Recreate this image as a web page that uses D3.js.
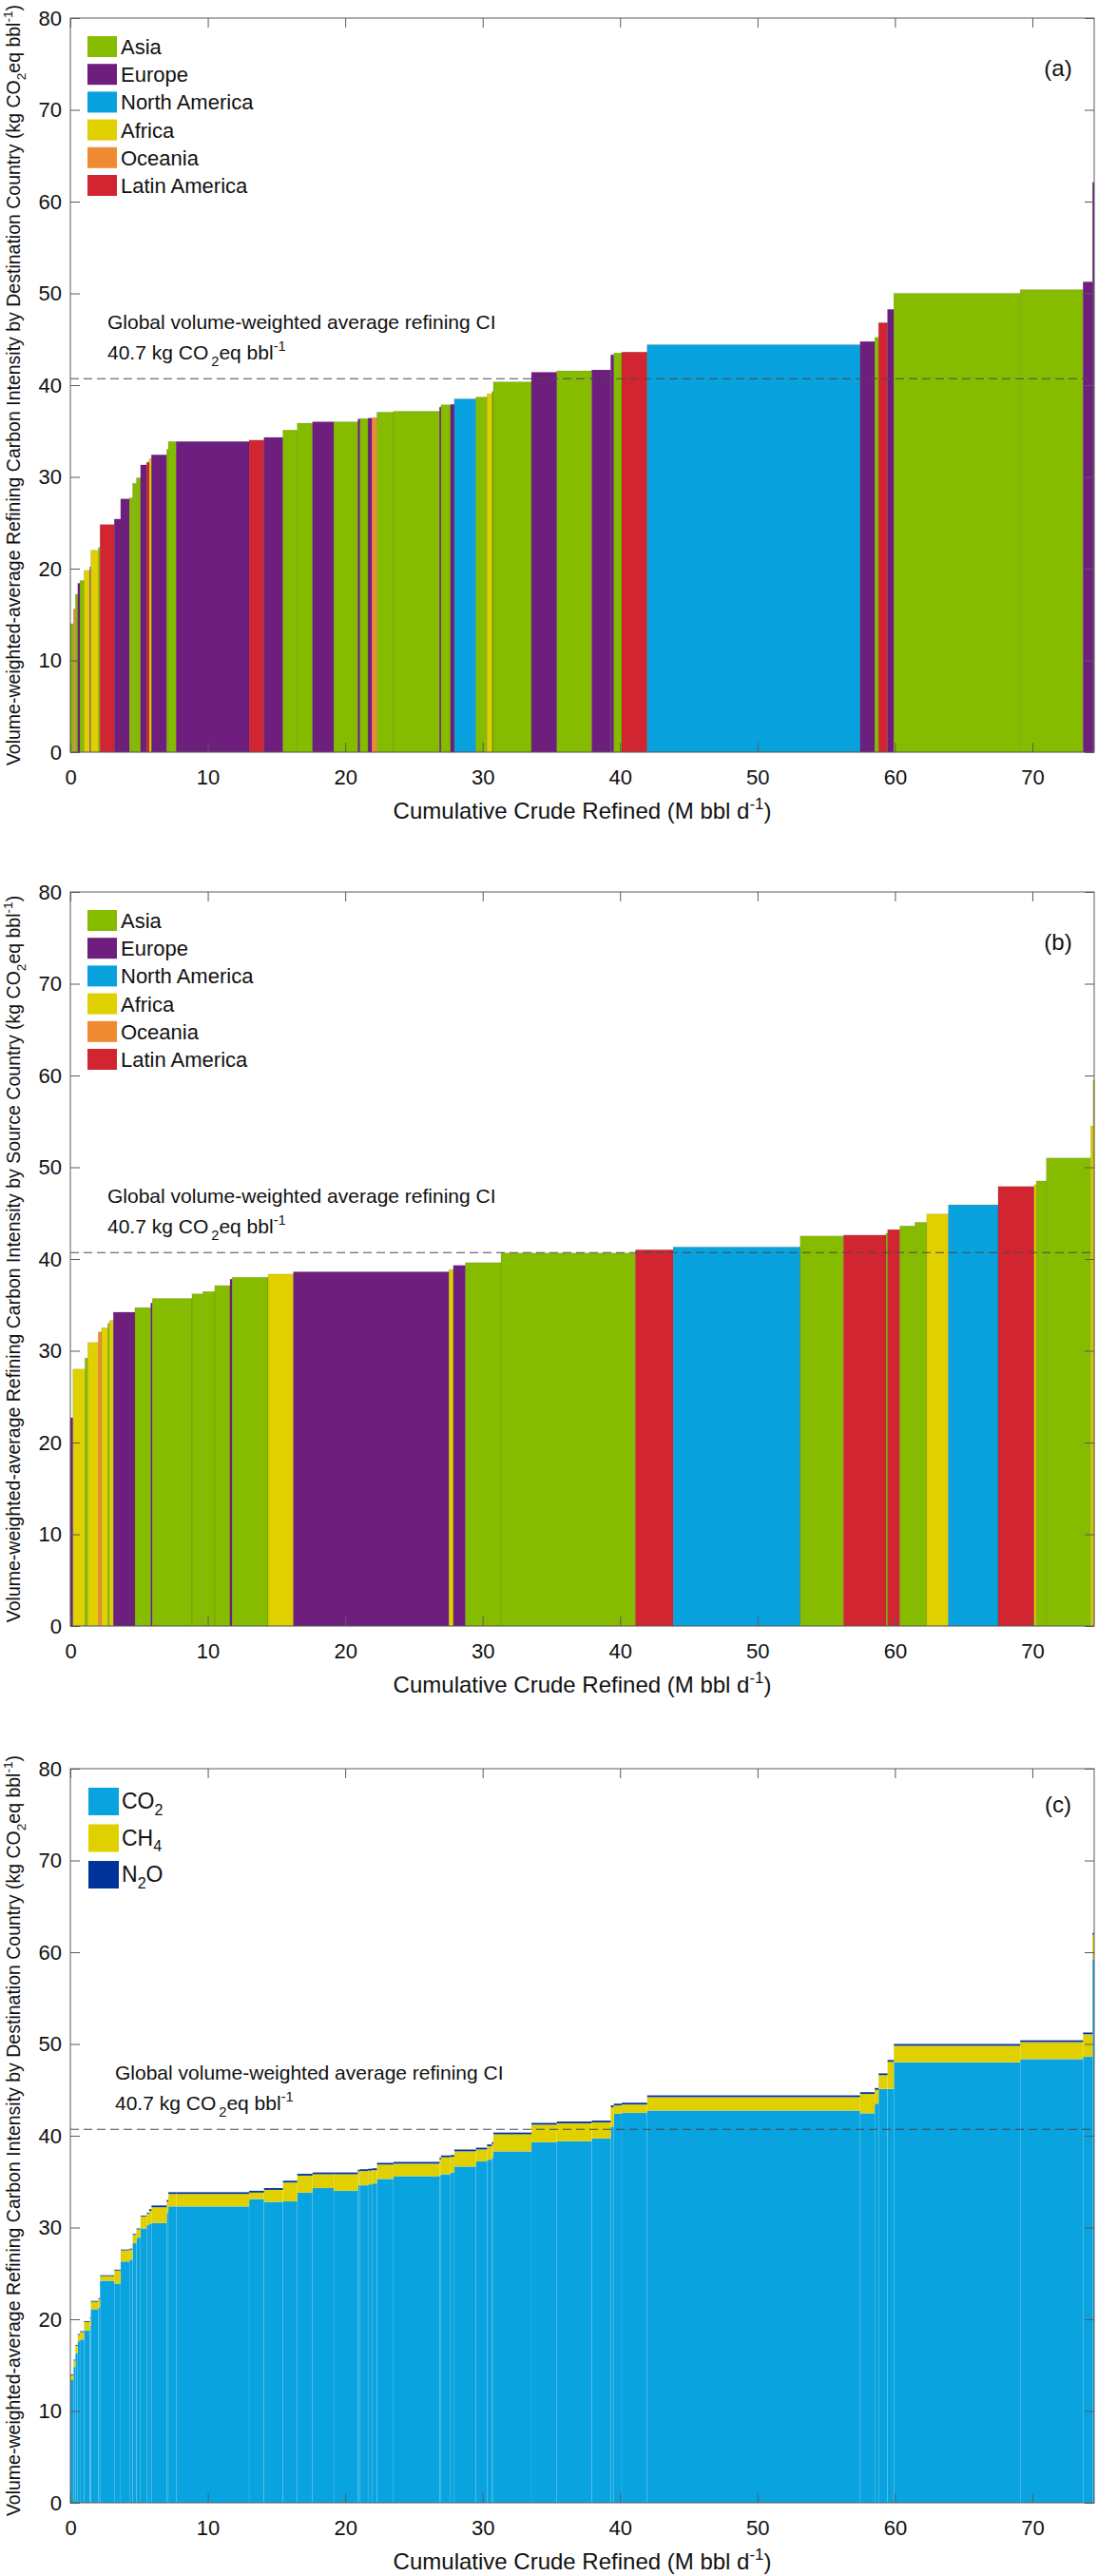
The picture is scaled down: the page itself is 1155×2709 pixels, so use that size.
<!DOCTYPE html>
<html>
<head>
<meta charset="utf-8">
<script src="https://cdn.jsdelivr.net/npm/d3@7"></script>
<style>
  body { margin: 0; background: #fff; }
  svg { display: block; }
  text { font-family: "Liberation Sans", Arial, Helvetica, sans-serif; fill: #111; }
</style>
</head>
<body>
<svg id="chart" width="1155" height="2709"></svg>
<script>
// ---- data -------------------------------------------------------------
const regionKeys = ["AS", "EU", "NA", "AF", "OC", "LA"];
const regionNames = ["Asia", "Europe", "North America", "Africa", "Oceania", "Latin America"];
const regionColors = ["#86bc00", "#6e1f7e", "#08a3df", "#e0d000", "#f08a32", "#d12631"];

// (a) by destination country, sorted by CI
const destWidth = [0.23, 0.14, 0.17, 0.16, 0.30, 0.42, 0.07, 0.55, 0.12, 1.04,
  0.46, 0.64, 0.23, 0.28, 0.30, 0.44, 0.19, 0.16, 1.11, 0.12,
  0.57, 5.31, 1.08, 1.38, 1.04, 1.11, 1.55, 1.75, 0.16, 0.58,
  0.28, 0.37, 1.20, 3.35, 0.11, 0.69, 0.28, 1.57, 0.81, 0.35,
  0.11, 2.77, 1.85, 2.54, 1.38, 0.23, 0.57, 1.85, 15.5, 1.06,
  0.28, 0.65, 0.46, 9.20, 4.57, 0.69, 0.12];
const destCI = [14.0, 15.6, 17.2, 18.4, 18.7, 19.8, 20.2, 22.0, 22.3, 24.8,
  25.4, 27.6, 27.7, 29.3, 29.9, 31.3, 31.6, 32.0, 32.4, 33.0,
  33.85, 33.85, 34.0, 34.3, 35.1, 35.85, 36.0, 36.0, 36.3, 36.35,
  36.4, 36.45, 37.05, 37.15, 37.6, 37.85, 37.9, 38.5, 38.7, 39.05,
  39.3, 40.35, 41.4, 41.55, 41.65, 43.3, 43.5, 43.6, 44.4, 44.75,
  45.2, 46.8, 48.25, 50.0, 50.4, 51.25, 62.1];
const destRegion = ["AS", "OC", "AS", "EU", "AS", "AF", "EU", "AF", "AS", "LA",
  "EU", "EU", "AS", "AS", "AS", "EU", "LA", "AF", "EU", "AS",
  "AS", "EU", "LA", "EU", "AS", "AS", "EU", "AS", "EU", "AS",
  "EU", "OC", "AS", "AS", "EU", "AS", "EU", "NA", "AS", "AF",
  "AS", "AS", "EU", "AS", "EU", "EU", "AS", "LA", "NA", "EU",
  "AS", "LA", "EU", "AS", "AS", "EU", "EU"];

// (b) by source country, sorted by CI
const srcWidth = [0.19, 0.87, 0.21, 0.76, 0.24, 0.46, 0.12, 0.28, 1.57, 1.15,
  0.12, 2.88, 0.80, 0.86, 1.11, 0.16, 2.61, 1.84, 11.32, 0.32,
  0.88, 2.59, 9.78, 2.75, 9.24, 3.15, 3.09, 0.12, 0.89, 1.10,
  0.85, 1.58, 3.62, 2.62, 0.16, 0.73, 3.23, 0.17, 0.10];
const srcCI = [22.7, 28.0, 29.2, 30.9, 32.05, 32.5, 33.0, 33.3, 34.2, 34.7,
  35.2, 35.7, 36.2, 36.45, 37.1, 37.8, 38.0, 38.35, 38.6, 38.85,
  39.3, 39.6, 40.65, 41.0, 41.3, 42.5, 42.6, 42.8, 43.2, 43.6,
  44.0, 44.9, 45.9, 47.9, 48.1, 48.5, 51.0, 54.5, 59.5];
const srcRegion = ["EU", "AF", "AS", "AF", "OC", "AF", "AS", "AF", "EU", "AS",
  "EU", "AS", "AS", "AS", "AS", "EU", "AS", "AF", "EU", "AF",
  "EU", "AS", "AS", "LA", "NA", "AS", "LA", "AS", "LA", "AS",
  "AS", "AF", "NA", "LA", "AF", "AS", "AS", "AF", "AF"];

// (c) gas split of the destination-country bars
const gasKeys = ["co2", "ch4", "n2o"];
const gasColors = ["#09a3df", "#e0d000", "#00349b"];
const co2 = [13.4, 14.8, 16.3, 17.6, 17.8, 18.8, 19.3, 21.1, 21.3, 24.2,
  23.9, 26.3, 26.5, 28.3, 28.9, 29.9, 30.3, 30.4, 30.5, 31.6,
  32.3, 32.3, 33.1, 32.8, 32.85, 33.8, 34.3, 34.0, 34.6, 34.6,
  34.7, 34.8, 35.3, 35.6, 35.7, 35.8, 36.0, 36.65, 37.2, 37.4,
  37.6, 38.3, 39.3, 39.4, 39.7, 41.0, 42.4, 42.5, 42.75, 42.45,
  43.5, 45.1, 45.1, 48.0, 48.35, 48.6, 59.2];
const ch4 = [0.5, 0.7, 0.8, 0.7, 0.8, 0.9, 0.8, 0.8, 0.9, 0.5,
  1.4, 1.2, 1.1, 0.9, 0.9, 1.3, 1.2, 1.4, 1.7, 1.2,
  1.35, 1.35, 0.7, 1.3, 2.05, 1.85, 1.5, 1.8, 1.5, 1.55,
  1.5, 1.45, 1.55, 1.35, 1.7, 1.85, 1.7, 1.65, 1.3, 1.45,
  1.5, 1.85, 1.9, 1.95, 1.75, 2.1, 0.9, 0.9, 1.45, 2.1,
  1.5, 1.5, 2.95, 1.8, 1.85, 2.45, 2.7];
const n2o = [0.1, 0.1, 0.1, 0.1, 0.1, 0.1, 0.1, 0.1, 0.1, 0.1,
  0.1, 0.1, 0.1, 0.1, 0.1, 0.1, 0.1, 0.2, 0.2, 0.2,
  0.2, 0.2, 0.2, 0.2, 0.2, 0.2, 0.2, 0.2, 0.2, 0.2,
  0.2, 0.2, 0.2, 0.2, 0.2, 0.2, 0.2, 0.2, 0.2, 0.2,
  0.2, 0.2, 0.2, 0.2, 0.2, 0.2, 0.2, 0.2, 0.2, 0.2,
  0.2, 0.2, 0.2, 0.2, 0.2, 0.2, 0.2];

const xTicks = [0, 10, 20, 30, 40, 50, 60, 70];
const yTicks = [0, 10, 20, 30, 40, 50, 60, 70, 80];
const xMax = 74.5;
const globalAvg = 40.7;

// ---- layout -----------------------------------------------------------
const svg = d3.select("#chart");
const left = 74, right = 1151;
const axisColor = "#5a5a5a";
const regionColor = d3.scaleOrdinal().domain(regionKeys).range(regionColors);

// text with sub/superscripts: parts = [[string, "n"|"sub"|"sup", dx], ...]
function rich(sel, parts, fs) {
  let shift = 0;
  parts.forEach(([s, kind, dx]) => {
    const target = kind === "sub" ? 0.3 * fs : kind === "sup" ? -0.42 * fs : 0;
    const t = sel.append("tspan").text(s).attr("dy", target - shift);
    if (kind !== "n") t.attr("font-size", fs * 0.7);
    if (dx) t.attr("dx", dx);
    shift = target;
  });
  return sel;
}

function panel(opts) {
  const { top, bottom, yTitle, label, labelDy, noteX } = opts;
  const x = d3.scaleLinear().domain([0, xMax]).range([left, right]);
  const y = d3.scaleLinear().domain([0, 80]).range([bottom, top]);
  const g = svg.append("g");

  const marks = g.append("g");
  opts.draw(marks, x, y);

  // average line
  g.append("line")
    .attr("x1", x(0)).attr("x2", x(xMax))
    .attr("y1", y(globalAvg)).attr("y2", y(globalAvg))
    .attr("stroke", "#4a4a4a").attr("stroke-width", 1.2)
    .attr("stroke-dasharray", "9,5");

  const yA = y(globalAvg);
  g.append("text").attr("x", noteX).attr("y", yA - 52)
    .attr("font-size", 21).text("Global volume-weighted average refining CI");
  rich(g.append("text").attr("x", noteX).attr("y", yA - 20).attr("font-size", 21),
    [["40.7 kg CO", "n"], ["2", "sub", 3], ["eq bbl", "n"], ["-1", "sup"], ["", "n"]], 21);

  // axes (ticks pointing inward, box style)
  const axL = g.append("g").attr("transform", `translate(${left},0)`)
    .call(d3.axisLeft(y).tickValues(yTicks).tickSize(-10).tickPadding(9));
  const axR = g.append("g").attr("transform", `translate(${right},0)`)
    .call(d3.axisRight(y).tickValues(yTicks).tickSize(-10).tickFormat(""));
  const axB = g.append("g").attr("transform", `translate(0,${bottom})`)
    .call(d3.axisBottom(x).tickValues(xTicks).tickSize(-10).tickPadding(18));
  const axT = g.append("g").attr("transform", `translate(0,${top})`)
    .call(d3.axisTop(x).tickValues(xTicks).tickSize(-10).tickFormat(""));
  [axL, axR, axB, axT].forEach((a) => {
    a.select(".domain").remove();
    a.selectAll(".tick line").attr("stroke", axisColor);
    a.selectAll(".tick text").attr("font-size", 22).attr("fill", "#111")
      .attr("font-family", '"Liberation Sans", Arial, sans-serif');
  });
  g.append("rect")
    .attr("x", left).attr("y", top)
    .attr("width", right - left).attr("height", bottom - top)
    .attr("fill", "none").attr("stroke", axisColor).attr("stroke-width", 1);

  // axis titles
  rich(g.append("text")
    .attr("text-anchor", "middle")
    .attr("x", (left + right) / 2).attr("y", bottom + 70)
    .attr("font-size", 24),
    [["Cumulative Crude Refined (M bbl d", "n"], ["-1", "sup"], [")", "n"]], 24);

  rich(g.append("text")
    .attr("text-anchor", "middle")
    .attr("transform", `translate(21,${(top + bottom) / 2}) rotate(-90)`)
    .attr("font-size", 19.5),
    [[yTitle + " (kg CO", "n"], ["2", "sub"], ["eq bbl", "n"], ["-1", "sup"], [")", "n"]], 19.5);

  g.append("text")
    .attr("x", 1113).attr("y", top + labelDy)
    .attr("text-anchor", "middle").attr("font-size", 24)
    .text(label);

  opts.legend(g, top);
}

function regionLegend(g, top) {
  const lg = g.append("g").attr("transform", `translate(92,${top + 19})`);
  regionNames.forEach((name, i) => {
    lg.append("rect").attr("x", 0).attr("y", i * 29.2)
      .attr("width", 31).attr("height", 22).attr("fill", regionColors[i]);
    lg.append("text").attr("x", 35).attr("y", i * 29.2 + 11)
      .attr("dy", "0.36em").attr("font-size", 22).text(name);
  });
}

function regionBars(widths, values, regions) {
  const ends = d3.cumsum(widths);
  const rows = widths.map((w, i) => ({ x0: ends[i] - w, x1: ends[i], v: values[i], r: regions[i] }));
  return (marks, x, y) => {
    marks.selectAll("rect").data(rows).join("rect")
      .attr("x", (d) => x(d.x0))
      .attr("width", (d) => Math.max(0.6, x(d.x1) - x(d.x0)))
      .attr("y", (d) => y(d.v))
      .attr("height", (d) => y(0) - y(d.v))
      .attr("fill", (d) => regionColor(d.r))
      .attr("stroke", "rgba(0,0,0,0.18)").attr("stroke-width", 0.6);
  };
}

// (a)
panel({
  top: 19, bottom: 791, label: "(a)", labelDy: 61, noteX: 113,
  yTitle: "Volume-weighted-average Refining Carbon Intensity by Destination Country",
  draw: regionBars(destWidth, destCI, destRegion),
  legend: regionLegend,
});

// (b)
panel({
  top: 938, bottom: 1710, label: "(b)", labelDy: 61, noteX: 113,
  yTitle: "Volume-weighted-average Refining Carbon Intensity by Source Country",
  draw: regionBars(srcWidth, srcCI, srcRegion),
  legend: regionLegend,
});

// (c)
const gasRows = co2.map((v, i) => ({ co2: v, ch4: ch4[i], n2o: n2o[i] }));
const gasStack = d3.stack().keys(gasKeys)(gasRows);
const destEnds = d3.cumsum(destWidth);

panel({
  top: 1860, bottom: 2632, label: "(c)", labelDy: 46, noteX: 121,
  yTitle: "Volume-weighted-average Refining Carbon Intensity by Destination Country",
  draw: (marks, x, y) => {
    marks.selectAll("g").data(gasStack).join("g")
      .attr("fill", (s, i) => gasColors[i])
      .selectAll("rect").data((s) => s).join("rect")
      .attr("x", (d, i) => x(destEnds[i] - destWidth[i]))
      .attr("width", (d, i) => Math.max(0.6, x(destEnds[i]) - x(destEnds[i] - destWidth[i])))
      .attr("y", (d) => y(d[1]))
      .attr("height", (d) => y(d[0]) - y(d[1]))
      .attr("stroke", "rgba(255,255,255,0.12)").attr("stroke-width", 0.6);
  },
  legend: (g, top) => {
    const lg = g.append("g").attr("transform", `translate(93,${top + 20})`);
    const names = [[["CO", "n"], ["2", "sub"]], [["CH", "n"], ["4", "sub"]], [["N", "n"], ["2", "sub"], ["O", "n"]]];
    names.forEach((parts, i) => {
      lg.append("rect").attr("x", 0).attr("y", i * 38.5)
        .attr("width", 32).attr("height", 29).attr("fill", gasColors[i]);
      rich(lg.append("text").attr("x", 35).attr("y", i * 38.5 + 22).attr("font-size", 23), parts, 23);
    });
  },
});
</script>
</body>
</html>
